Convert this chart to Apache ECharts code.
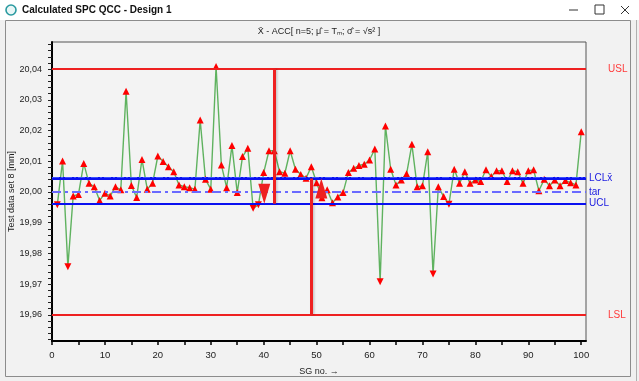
<!DOCTYPE html>
<html>
<head>
<meta charset="utf-8">
<script src="https://cdn.jsdelivr.net/npm/echarts@6/dist/echarts.min.js"></script>
<style>
html,body{margin:0;padding:0;background:#f0f0f0;}
#c{width:639px;height:381px;}
</style>
</head>
<body>
<div id="c"></div>
<script>
// ---- data ----
var values = [
 19.9958,20.0101,19.9757,19.9987,19.9992,20.0093,20.0028,20.0017,19.9972,19.9996,
 19.9987,20.0017,20.0007,20.0328,20.0021,19.9982,20.0106,20.0009,20.0028,20.0117,
 20.0099,20.0082,20.0066,20.0023,20.0017,20.0014,20.0009,20.0234,20.0041,20.0009,
 20.0408,20.0088,20.0014,20.0151,19.9998,20.0115,20.0142,19.9947,19.9958,20.0063,
 20.0134,20.0134,20.0066,20.0061,20.0134,20.0074,20.0057,20.0045,20.0082,20.0030,
 19.9981,20.0007,19.9965,19.9984,19.9998,20.0063,20.0077,20.0086,20.0090,20.0104,
 20.0140,19.9708,20.0215,20.0074,20.0023,20.0039,20.0059,20.0155,20.0017,20.0020,
 20.0131,19.9733,20.0017,19.9985,19.9960,20.0074,20.0028,20.0066,20.0028,20.0039,
 20.0034,20.0072,20.0050,20.0069,20.0069,20.0034,20.0069,20.0066,20.0028,20.0069,
 20.0072,20.0004,20.0041,20.0020,20.0039,20.0020,20.0037,20.0030,20.0023,20.0196
];
var sgNo = [];
for (var i = 0; i < values.length; i++) sgNo.push(i + 1);

var USL = 20.04, LSL = 19.96, LCLx = 20.0044, TAR = 20.0, UCL = 19.9962;
var limitNames = ['USL', 'LCLx\u0304', 'tar', 'UCL', 'LSL'];
var arrowX = [42, 49];
var arrowFrom = [20.04, 19.96];
var arrowTo = [19.9962, 20.0044];

var xTickLabels = [0,10,20,30,40,50,60,70,80,90,100];
var xTicks = [0,5,10,15,20,25,30,35,40,45,50,55,60,65,70,75,80,85,90,95,100];
var yTickLabels = [19.96,19.97,19.98,19.99,20.00,20.01,20.02,20.03,20.04];
var yTicks = [];
for (var t = 19952; t <= 20048; t += 2) yTicks.push(t / 1000);

var title = 'X\u0304 - ACC[ n=5; \u03BC\u0302 = T\u2098; \u03C3\u0302 = \u221As\u0304\u00B2 ]';

// ---- chart ----
var chart = echarts.init(document.getElementById('c'), null, {renderer: 'canvas'});
var FONT = "'Liberation Sans Narrow','Liberation Sans',Arial,sans-serif";

var pts = values.map(function (v, k) {
  var o = {value: [sgNo[k], v]};
  if (v < UCL) o.symbolRotate = 180;
  return o;
});

var red = '#ee2020', blue = '#0a10f0';

function hLine(y, color, width, type, name, dist, labColor) {
  return {
    yAxis: y,
    lineStyle: {color: color, width: width, type: type},
    label: {show: !!name, formatter: name || '', position: 'end', distance: dist,
            color: labColor, fontSize: 10, fontFamily: FONT}
  };
}

var option = {
  animation: false,
  backgroundColor: '#f0f0f0',
  graphic: [
    {type: 'rect', z: -10, shape: {x: 0, y: 0, width: 639, height: 20}, style: {fill: '#ffffff'}},
    {type: 'circle', z: -9, shape: {cx: 11, cy: 10, r: 5}, style: {fill: '#e8f6f6', stroke: '#2a9aa0', lineWidth: 1.6}},
    {type: 'text', z: -9, style: {x: 22, y: 10, text: 'Calculated SPC QCC - Design 1', fill: '#111',
      font: 'bold 10px "Liberation Sans", Arial, sans-serif', verticalAlign: 'middle'}},
    {type: 'line', z: -9, shape: {x1: 569, y1: 10, x2: 578, y2: 10}, style: {stroke: '#333', lineWidth: 1}},
    {type: 'rect', z: -9, shape: {x: 595, y: 5, width: 9, height: 9}, style: {fill: 'none', stroke: '#333', lineWidth: 1}},
    {type: 'line', z: -9, shape: {x1: 621, y1: 6, x2: 629, y2: 14}, style: {stroke: '#333', lineWidth: 1}},
    {type: 'line', z: -9, shape: {x1: 629, y1: 6, x2: 621, y2: 14}, style: {stroke: '#333', lineWidth: 1}},
    {type: 'rect', z: -10, shape: {x: 5.5, y: 20.5, width: 625, height: 356}, style: {fill: '#f2f2f2', stroke: '#8c8c8c', lineWidth: 1}},
    {type: 'line', z: -9, shape: {x1: 636.5, y1: 20, x2: 636.5, y2: 381}, style: {stroke: '#b0b0b0', lineWidth: 1}},
    {type: 'text', z: 5, style: {x: 319, y: 32, text: title, fill: '#222',
      font: '9px "Liberation Sans", Arial, sans-serif', align: 'center', verticalAlign: 'middle'}}
  ],
  grid: {left: 52, right: 53, top: 42, bottom: 40, show: true, backgroundColor: '#f3f3f3',
         borderColor: '#555', borderWidth: 1, containLabel: false, outerBoundsMode: 'none'},
  xAxis: {
    type: 'value', min: 0, max: 100.9,
    name: 'SG no. \u2192', nameLocation: 'middle', nameGap: 26, nameMoveOverlap: false,
    nameTextStyle: {color: '#222', fontSize: 9, fontFamily: FONT},
    axisLine: {show: true, onZero: false, lineStyle: {color: '#000', width: 2}},
    axisTick: {show: true, length: 4, customValues: xTicks, lineStyle: {color: '#000', width: 1.5}},
    axisLabel: {customValues: xTickLabels, color: '#222', fontSize: 9.5, fontFamily: FONT, margin: 9},
    splitLine: {show: false}
  },
  yAxis: {
    type: 'value', min: 19.9515, max: 20.0488,
    name: 'Test data set 8 [mm]', nameLocation: 'middle', nameGap: 36, nameRotate: 90, nameMoveOverlap: false,
    nameTextStyle: {color: '#222', fontSize: 9, fontFamily: FONT},
    axisLine: {show: true, onZero: false, lineStyle: {color: '#000', width: 2}},
    axisTick: {show: true, length: 4, customValues: yTicks, lineStyle: {color: '#222', width: 1}},
    axisLabel: {customValues: yTickLabels, color: '#222', fontSize: 9, fontFamily: FONT, margin: 10,
      formatter: function (v) { return v.toFixed(2).replace('.', ','); }},
    splitLine: {show: false}
  },
  series: [
    {
      type: 'line', z: 1, data: [], silent: true,
      markLine: {
        silent: true, symbol: ['none', 'none'], precision: 6,
        data: [
          hLine(USL, red, 2, 'solid', limitNames[0], 22, '#ff3b3b'),
          hLine(LSL, red, 2, 'solid', limitNames[4], 22, '#ff3b3b'),
          hLine(LCLx, blue, 3, 'solid', limitNames[1], 3, '#1a1ae0'),
          hLine(LCLx + 0.0003, '#3a50ff', 1, [7, 2, 2, 2], null, 3, '#1a1ae0'),
          hLine(TAR, '#6a6aff', 2, [9, 4, 3, 4], limitNames[2], 3, '#1a1ae0'),
          hLine(UCL, blue, 2, 'solid', limitNames[3], 3, '#1a1ae0')
        ]
      }
    },
    {
      type: 'line', z: 3, data: pts,
      lineStyle: {color: '#5fb25f', width: 1.4},
      symbol: 'triangle', symbolSize: 7, showAllSymbol: true,
      itemStyle: {color: '#ff0000'}
    },
    {
      type: 'line', z: 4, data: [], silent: true,
      markLine: {
        silent: true, symbol: ['none', 'path://M5,0 L10,20 L0,20 Z'], symbolSize: [12, 20],
        symbolOffset: [0, 10], symbolKeepAspect: false, precision: 6,
        lineStyle: {color: red, width: 3, type: 'solid', shadowColor: 'rgba(0,0,0,0.18)', shadowBlur: 2, shadowOffsetX: 1.5},
        itemStyle: {color: red},
        label: {show: false},
        data: [
          [{coord: [arrowX[0], arrowFrom[0]]}, {coord: [arrowX[0], arrowTo[0]]}],
          [{coord: [arrowX[1], arrowFrom[1]]}, {coord: [arrowX[1], arrowTo[1]]}]
        ]
      }
    }
  ]
};
chart.setOption(option);
</script>
</body>
</html>
